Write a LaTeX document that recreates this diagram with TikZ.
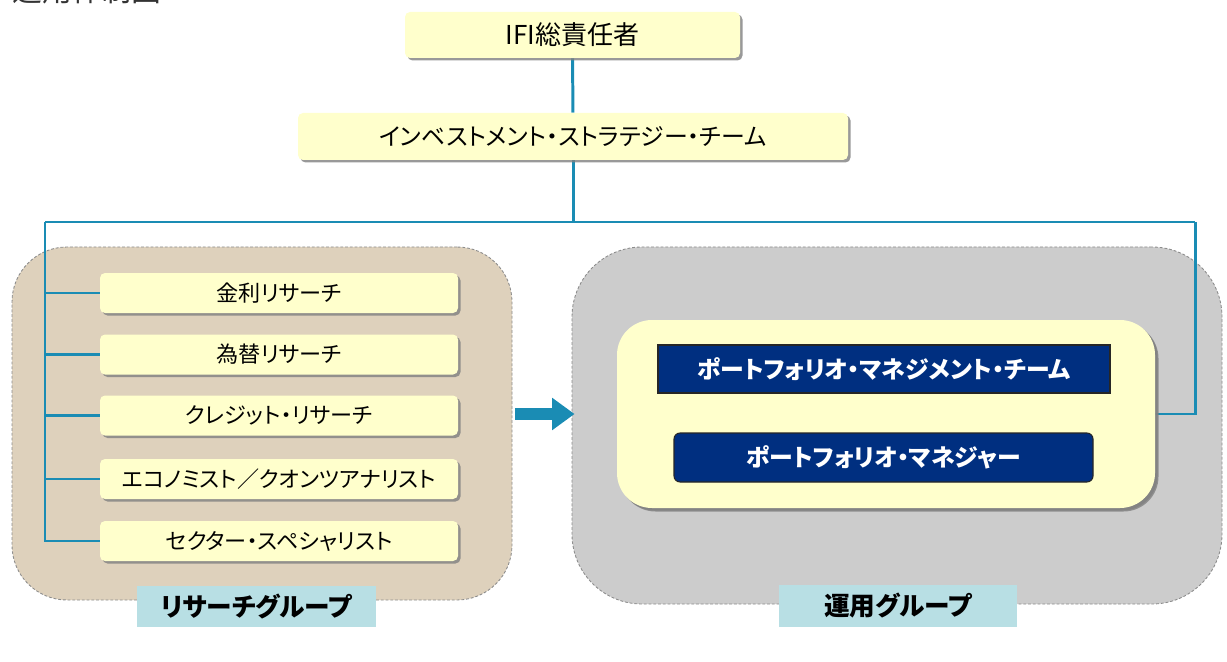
\documentclass[tikz,border=0pt]{standalone}
\usepackage{fontspec}
\newfontfamily\jp[RawFeature=+palt]{Noto Sans CJK JP}
\usetikzlibrary{shadows,arrows.meta}
\definecolor{ln}{HTML}{1A8CB4}
\definecolor{yel}{HTML}{FFFFCC}
\definecolor{tan}{HTML}{DED1BC}
\definecolor{gry}{HTML}{CCCCCC}
\definecolor{lblue}{HTML}{B8DFE4}
\definecolor{dblue}{HTML}{002F80}
\pgfdeclarelayer{bg}
\pgfdeclarelayer{lines}
\pgfsetlayers{bg,lines,main}
\tikzset{
  sz/.style 2 args={minimum width=#1*0.02cm, minimum height=#2*0.02cm},
  ybox/.style={fill=yel, rounded corners=0.1cm, inner sep=0pt,
    drop shadow={shadow xshift=0.05cm, shadow yshift=-0.05cm, fill=black!50, opacity=0.8}},
  itemtxt/.style={font=\jp\fontsize{12.6}{12.6}\selectfont},
  grp/.style={draw=black!45, dash pattern=on 1.6pt off 1.1pt, line width=0.5pt, inner sep=0pt},
  lbl/.style={fill=lblue, inner sep=0pt, font=\jp\bfseries\fontsize{14.6}{14.6}\selectfont},
  dbox/.style={fill=dblue, draw=black!85, line width=0.6pt, inner sep=0pt, text=white,
    font=\jp\bfseries\fontsize{13.6}{13.6}\selectfont},
  conn/.style={draw=ln, line width=1.7pt},
  bigarrow/.style={draw=ln, line width=0.24cm, -{Triangle[length=0.45cm, width=0.62cm]}}
}
\begin{document}
\begin{tikzpicture}[x=0.02cm, y=-0.02cm, font=\jp]
\useasboundingbox (0,0) rectangle (1227,662);
% title (cut off at top)
\node[anchor=base west, inner sep=0pt, text=black!80, font=\jp\fontsize{17}{17}\selectfont] (title) at (12,2) {運用体制図};
% top boxes
\node[ybox, sz={335}{46}, font=\jp\fontsize{14.8}{14.8}\selectfont] (ifi) at (572.5,35) {IFI総責任者};
\node[ybox, sz={550}{47}, font=\jp\fontsize{13.6}{13.6}\selectfont] (ist) at (573,136.5) {インベストメント・ストラテジー・チーム};
% groups
\begin{pgfonlayer}{bg}
\node[grp, fill=tan, rounded corners=1.1cm, sz={500}{353}] (lg) at (262,423.5) {};
\node[grp, fill=gry, rounded corners=1.4cm, sz={650}{357}] (rg) at (897,425.5) {};
\end{pgfonlayer}
% research items
\node[ybox, itemtxt, sz={358}{40}] (i1) at (279,293) {金利リサーチ};
\node[ybox, itemtxt, sz={358}{40}] (i2) at (279,354.5) {為替リサーチ};
\node[ybox, itemtxt, sz={358}{40}] (i3) at (279,415.5) {クレジット・リサーチ};
\node[ybox, itemtxt, sz={358}{40}] (i4) at (279,479) {エコノミスト／クオンツアナリスト};
\node[ybox, itemtxt, sz={358}{40}] (i5) at (279,541) {セクター・スペシャリスト};
% group labels
\node[lbl, sz={239}{41}] (lgl) at (256.5,606.5) {リサーチグループ};
\node[lbl, sz={238}{42}] (rgl) at (898,606) {運用グループ};
% operations
\node[ybox, rounded corners=0.7cm, sz={538}{188},
  drop shadow={shadow xshift=0.07cm, shadow yshift=-0.07cm, fill=black!50, opacity=0.8}] (yel) at (886,414) {};
\node[dbox, sz={452}{48}] (pm1) at (884,369) {ポートフォリオ・マネジメント・チーム};
\node[dbox, rounded corners=0.12cm, sz={419}{49}] (pm2) at (883.5,457.5) {ポートフォリオ・マネジャー};
% connectors
\coordinate (jL) at (45,222);
\coordinate (jR) at (1195,222);
\begin{pgfonlayer}{lines}
\draw[conn] (ifi) -- (ist);
\draw[conn] (ist.south) -- (ist.south |- jL);
\draw[conn] (jL) -- (jR);
\draw[conn] (jL) |- (i5.west);
\draw[conn] (jL |- i1.west) -- (i1.west);
\draw[conn] (jL |- i2.west) -- (i2.west);
\draw[conn] (jL |- i3.west) -- (i3.west);
\draw[conn] (jL |- i4.west) -- (i4.west);
\draw[conn] (jR) |- (yel.east);
\draw[conn] (pm1) -- (pm2);
\end{pgfonlayer}
\draw[bigarrow] ([xshift=0.06cm]lg.east |- yel.east) -- ([xshift=0.06cm]rg.west |- yel.east);
\end{tikzpicture}
\end{document}
